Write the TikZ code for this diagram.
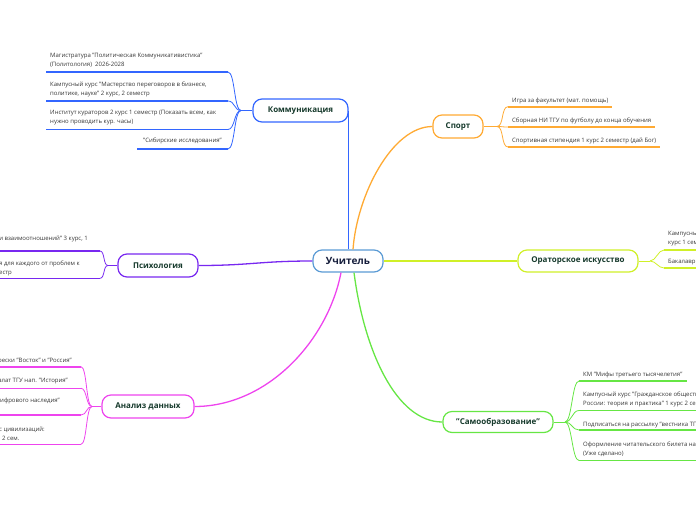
\documentclass[tikz,border=0pt]{standalone}
\usepackage{fontspec}
\setmainfont{Open Sans}
\usetikzlibrary{calc}
\definecolor{kblue}{RGB}{51,102,255}
\definecolor{sorange}{RGB}{255,170,51}
\definecolor{olime}{RGB}{208,240,40}
\definecolor{ppurple}{RGB}{120,40,240}
\definecolor{amag}{RGB}{238,68,238}
\definecolor{sgreen}{RGB}{102,230,68}
\definecolor{uchblue}{RGB}{91,155,213}
\definecolor{uchtext}{RGB}{22,30,60}
\definecolor{ntext}{RGB}{22,58,44}
\definecolor{ltext}{RGB}{55,55,55}
\tikzset{
  mainnode/.style={draw=uchblue, line width=1.2pt, fill=white, rounded corners=9pt,
    minimum width=70pt, minimum height=22pt, inner sep=1pt,
    font=\bfseries\fontsize{10}{12}\selectfont, text=uchtext},
  branchnode/.style={fill=white, line width=1.2pt, rounded corners=9pt,
    minimum height=23pt, inner sep=1pt,
    font=\bfseries\fontsize{8}{10}\selectfont, text=ntext},
  leaf/.style={inner xsep=4pt, inner ysep=0pt, align=left,
    font=\fontsize{6}{8.5}\selectfont, text=ltext},
  conn/.style={line width=1.3pt},
  bracecon/.style={line width=0.8pt},
  ul/.style={line width=1.6pt},
}
\begin{document}
\begin{tikzpicture}[x=1pt,y=-1pt]
\useasboundingbox (0,0) rectangle (696,520);
\clip (0,0) rectangle (696,520);

% central and branch nodes
\node[mainnode] (uch) at (348,261) {Учитель};
\node[branchnode, draw=kblue, minimum width=95pt] (kom) at (300.5,110.5) {Коммуникация};
\node[branchnode, draw=sorange, minimum width=50pt] (sport) at (458,126.5) {Спорт};
\node[branchnode, draw=olime, minimum width=120pt, minimum height=22pt] (orat) at (578,261) {Ораторское искусство};
\node[branchnode, draw=ppurple, minimum width=80pt] (psych) at (158,265.5) {Психология};
\node[branchnode, draw=amag, minimum width=92pt] (anal) at (148,406.5) {Анализ данных};
\node[branchnode, draw=sgreen, minimum width=110pt, minimum height=21pt] (samo) at (498,422) {"Самообразование"};

% main connectors
\draw[conn, kblue] (uch.north -| kom.east) -- (kom.east);
\draw[conn, sorange] ([xshift=5pt]uch.north) .. controls (357,195) and (392,126.5) .. (sport.west);
\draw[conn, olime] (uch.east) -- (orat.west);
\draw[conn, ppurple] (uch.west) .. controls (260,261) and (250,265.5) .. (psych.east);
\draw[conn, amag] ([xshift=-7pt]uch.south) .. controls (328,340) and (268,406.5) .. (anal.east);
\draw[conn, sgreen] ([xshift=6pt]uch.south) .. controls (364,350) and (396,422) .. (samo.west);

% ---------- Коммуникация leaves
\coordinate (kJ) at (241,110.5);
\node[leaf, anchor=base west] (k1) at (46,66) {Магистратура "Политическая Коммуникативистика"\\(Политология)\ \ 2026-2028};
\node[leaf, anchor=base west] (k2) at (46,95) {Кампусный курс "Мастерство переговоров в бизнесе,\\политике, науке" 2 курс, 2 семестр};
\node[leaf, anchor=base west] (k3) at (46,123) {Институт кураторов 2 курс 1 семестр (Показать всем, как\\нужно проводить кур. часы)};
\node[leaf, anchor=base east] (k4) at (226,142.5) {"Сибирские исследования"};
\coordinate (k1u) at (228,72);
\coordinate (k2u) at (228,101);
\coordinate (k3u) at (228,129.5);
\coordinate (k4u) at (228,149);
\draw[ul, kblue] (k1.west |- k1u) -- (k1u);
\draw[ul, kblue] (k2.west |- k2u) -- (k2u);
\draw[ul, kblue] (k3.west |- k3u) -- (k3u);
\draw[ul, kblue] ([xshift=-2pt]k4.west |- k4u) -- (k4u);
\draw[bracecon, kblue] (kom.west) -- (kJ);
\foreach \u in {k1u,k2u,k3u,k4u}
  \draw[bracecon, kblue] (kJ) .. controls +(-7,0) and +(7,0) .. (\u);

% ---------- Спорт leaves
\coordinate (sJ) at (497,126.5);
\node[leaf, anchor=base west] (s1) at (508,102) {Игра за факультет (мат. помощь)};
\node[leaf, anchor=base west] (s2) at (508,122.5) {Сборная НИ ТГУ по футболу до конца обучения};
\node[leaf, anchor=base west] (s3) at (508,142) {Спортивная стипендия 1 курс 2 семестр (дай Бог)};
\coordinate (s1u) at (s1.west |- 0,106.7);
\coordinate (s2u) at (s2.west |- 0,127);
\coordinate (s3u) at (s3.west |- 0,147);
\draw[ul, sorange] (s1u) -- (s1.east |- s1u);
\draw[ul, sorange] (s2u) -- (s2.east |- s2u);
\draw[ul, sorange] (s3u) -- (s3.east |- s3u);
\draw[bracecon, sorange] (sport.east) -- (sJ);
\foreach \u in {s1u,s2u,s3u}
  \draw[bracecon, sorange] (sJ) .. controls +(7,0) and +(-7,0) .. (\u);

% ---------- Ораторское искусство leaves
\coordinate (oJ) at (650,261);
\node[leaf, anchor=base west] (o1) at (664,244) {Кампусный\\курс 1 семестр};
\node[leaf, anchor=base west] (o2) at (664,263.5) {Бакалавриат};
\coordinate (o1u) at (o1.west |- 0,250);
\coordinate (o2u) at (o2.west |- 0,268);
\draw[ul, olime] (o1u) -- (o1.east |- o1u);
\draw[ul, olime] (o2u) -- (o2.east |- o2u);
\draw[bracecon, olime] (orat.east) -- (oJ);
\foreach \u in {o1u,o2u}
  \draw[bracecon, olime] (oJ) .. controls +(6,0) and +(-6,0) .. (\u);

% ---------- Психология leaves
\coordinate (pJ) at (108,265.5);
\node[leaf, anchor=base east] (p1) at (92,240) {и взаимоотношений" 3 курс, 1};
\node[leaf, anchor=base east] (p2) at (84,274) {я для каждого от проблем к\\естр};
\coordinate (p1u) at (100,251);
\coordinate (p2u) at (100,278.3);
\draw[ul, ppurple] (p1u) -- ++(-110,0);
\draw[ul, ppurple] (p2u) -- ++(-110,0);
\draw[bracecon, ppurple] (psych.west) -- (pJ);
\foreach \u in {p1u,p2u}
  \draw[bracecon, ppurple] (pJ) .. controls +(-5,0) and +(5,0) .. (\u);

% ---------- Анализ данных leaves
\coordinate (aJ) at (92,406.5);
\node[leaf, anchor=base east] (a1) at (76,362.4) {рески "Восток" и "Россия"};
\node[leaf, anchor=base east] (a2) at (72,382.4) {алат ТГУ нап. "История"};
\node[leaf, anchor=base east] (a3) at (64,402.4) {ифрового наследия"};
\node[leaf, anchor=base east] (a4) at (49,440) {с цивилизаций:\\\hspace*{3pt}2 сем.};
\coordinate (a1u) at (81,366.7);
\coordinate (a2u) at (81,388.3);
\coordinate (a3u) at (81,415);
\coordinate (a4u) at (81,444.3);
\foreach \u in {a1u,a2u,a3u,a4u}
  \draw[ul, amag] (\u) -- ++(-90,0);
\draw[bracecon, amag] (anal.west) -- (aJ);
\foreach \u in {a1u,a2u,a3u,a4u}
  \draw[bracecon, amag] (aJ) .. controls +(-6,0) and +(6,0) .. (\u);

% ---------- Самообразование leaves
\coordinate (cJ) at (565,422);
\node[leaf, anchor=base west] (c1) at (579,376.7) {КМ "Мифы третьего тысячелетия"};
\node[leaf, anchor=base west] (c2) at (579,405.3) {Кампусный курс "Гражданское общество\\России: теория и практика" 1 курс 2 семестр};
\node[leaf, anchor=base west] (c3) at (579,426) {Подписаться на рассылку "вестника ТГУ"};
\node[leaf, anchor=base west] (c4) at (579,455) {Оформление читательского билета на\\(Уже сделано)};
\coordinate (c1u) at (c1.west |- 0,381);
\coordinate (c2u) at (c2.west |- 0,410.5);
\coordinate (c3u) at (c3.west |- 0,430);
\coordinate (c4u) at (c4.west |- 0,460.5);
\draw[ul, sgreen] (c1u) -- (c1.east |- c1u);
\draw[ul, sgreen] (c2u) -- (c2.east |- c2u);
\draw[ul, sgreen] (c3u) -- (c3.east |- c3u);
\draw[ul, sgreen] (c4u) -- (c4.east |- c4u);
\draw[bracecon, sgreen] (samo.east) -- (cJ);
\foreach \u in {c1u,c2u,c3u,c4u}
  \draw[bracecon, sgreen] (cJ) .. controls +(7,0) and +(-7,0) .. (\u);
\end{tikzpicture}
\end{document}
